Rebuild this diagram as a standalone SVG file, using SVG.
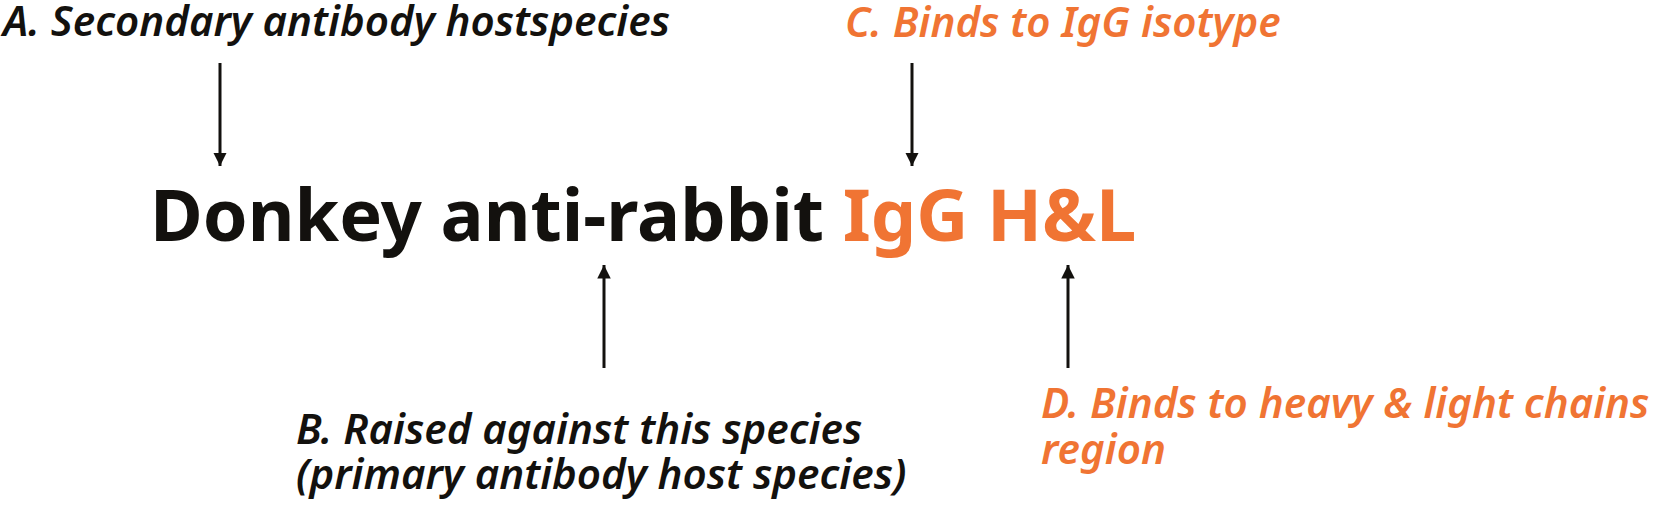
<svg xmlns="http://www.w3.org/2000/svg" width="1653" height="506" viewBox="0 0 1653 506">
<defs>
<style>
.lbl{font-family:"Noto Sans","Open Sans","DejaVu Sans",sans-serif;font-style:italic;font-weight:600;font-size:42px;}
.main{font-family:"Noto Sans","Open Sans","DejaVu Sans",sans-serif;font-weight:700;font-size:72px;}
.dark{fill:#13110e;}
.orange{fill:#f07433;}
.arr{stroke:#13110e;stroke-width:3;fill:none;}
</style>
<marker id="ah" viewBox="0 0 10 10" refX="10" refY="5" markerWidth="4.5" markerHeight="4.5" markerUnits="strokeWidth" orient="auto">
<path d="M0,0 L10,5 L0,10 z" fill="#13110e"/>
</marker>
</defs>
<rect width="1653" height="506" fill="#ffffff"/>
<g id="main-label">
<text class="main" x="150" y="241"><tspan class="dark">Donkey anti-rabbit </tspan><tspan class="orange">IgG H&amp;L</tspan></text>
</g>
<g id="label-A">
<text class="lbl dark" x="3" y="36">A. Secondary antibody hostspecies</text>
</g>
<g id="label-B">
<text class="lbl dark" x="296" y="444">B. Raised against this species</text>
<text class="lbl dark" x="296" y="489">(primary antibody host species)</text>
</g>
<g id="label-C">
<text class="lbl orange" x="845" y="37">C. Binds to IgG isotype</text>
</g>
<g id="label-D">
<text class="lbl orange" x="1041" y="418">D. Binds to heavy &amp; light chains</text>
<text class="lbl orange" x="1041" y="464">region</text>
</g>
<g id="connectors">
<line class="arr" x1="220" y1="63" x2="220" y2="166" marker-end="url(#ah)"/>
<line class="arr" x1="912" y1="63" x2="912" y2="166" marker-end="url(#ah)"/>
<line class="arr" x1="604" y1="368" x2="604" y2="265" marker-end="url(#ah)"/>
<line class="arr" x1="1068" y1="368" x2="1068" y2="265" marker-end="url(#ah)"/>
</g>
</svg>
